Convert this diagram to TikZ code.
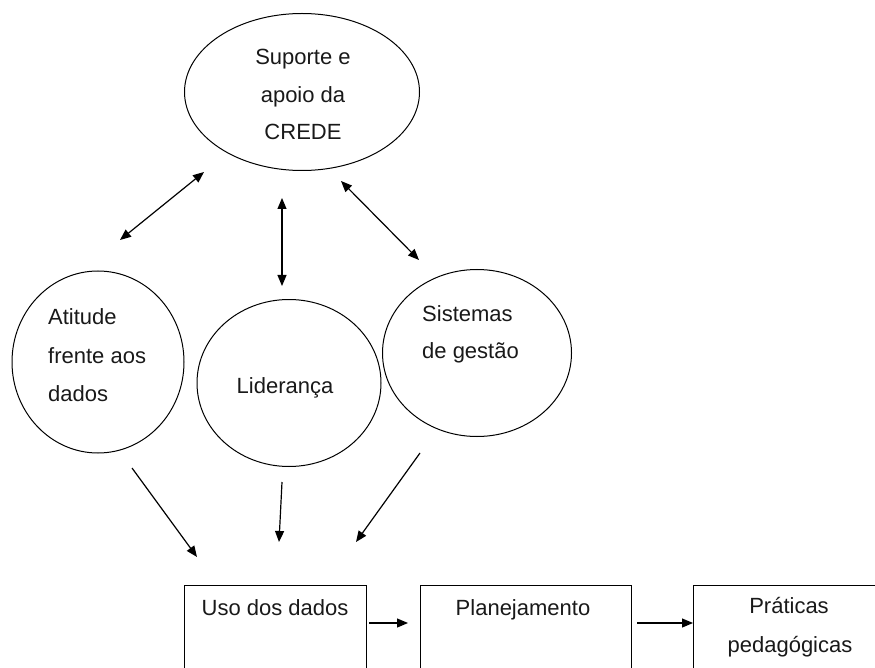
\documentclass[tikz,border=0pt]{standalone}
\usepackage{fontspec}
\setmainfont{Liberation Sans}
\usetikzlibrary{shapes.geometric,arrows.meta}
\begin{document}
\begin{tikzpicture}[x=1pt,y=-1pt,
  bubble/.style={draw, line width=1pt, ellipse, inner sep=0pt},
  boxnode/.style={draw, line width=1pt, rectangle, inner sep=0pt, anchor=north west, minimum height=120pt},
  lbl/.style={font=\fontsize{22}{26}\selectfont, inner sep=0pt, text=black!90},
  arr/.style={line width=1.2pt, -{Triangle[length=11pt,width=9pt]}},
  darr/.style={line width=1.2pt, {Triangle[length=11pt,width=9pt]}-{Triangle[length=11pt,width=9pt]}}
]
\useasboundingbox (0,0) rectangle (875,668);
\clip (0,0) rectangle (875,668);

% ellipses / circles
\node[bubble, minimum width=235pt, minimum height=157pt] (sup) at (302,92) {};
\node[bubble, minimum width=172pt, minimum height=182pt] (ati) at (98,362) {};
\node[bubble, minimum width=184pt, minimum height=167pt] (lid) at (289,383) {};
\node[bubble, minimum width=189pt, minimum height=167pt] (sis) at (477,353) {};

% labels
\node[lbl, anchor=base] (sup1) at (303,65) {Suporte e};
\node[lbl, anchor=base] (sup2) at (303,103) {apoio da};
\node[lbl, anchor=base] (sup3) at (303,140) {CREDE};
\node[lbl, anchor=base west] (ati1) at (48,324) {Atitude};
\node[lbl, anchor=base west] (ati2) at (48,363) {frente aos};
\node[lbl, anchor=base west] (ati3) at (48,401) {dados};
\node[lbl, anchor=base] (lid1) at (285,393) {Liderança};
\node[lbl, anchor=base west] (sis1) at (422,321) {Sistemas};
\node[lbl, anchor=base west] (sis2) at (422,358) {de gestão};

% boxes
\node[boxnode, minimum width=182pt] (b1) at (184,585) {};
\node[boxnode, minimum width=211pt] (b2) at (420,585) {};
\node[boxnode, minimum width=194pt] (b3) at (693,585) {};
\node[lbl, anchor=base] (b1t) at (275,615) {Uso dos dados};
\node[lbl, anchor=base] (b2t) at (523,615) {Planejamento};
\node[lbl, anchor=base] (b3t1) at (789,613) {Práticas};
\node[lbl, anchor=base] (b3t2) at (790,652) {pedagógicas};

% arrow end points
\coordinate (a1s) at (120,240); \coordinate (a1e) at (204,172);
\coordinate (a2s) at (282,286); \coordinate (a2e) at (282,198);
\coordinate (a3s) at (419,260); \coordinate (a3e) at (341,181);
\coordinate (d1s) at (132,468); \coordinate (d1e) at (197,557);
\coordinate (d2s) at (282,482); \coordinate (d2e) at (279,542);
\coordinate (d3s) at (420,453); \coordinate (d3e) at (356,542);
\coordinate (h1s) at (369,623); \coordinate (h1e) at (408,623);
\coordinate (h2s) at (637,623);

\draw[darr] (a1s) -- (a1e);
\draw[darr] (a2s) -- (a2e);
\draw[darr] (a3s) -- (a3e);
\draw[arr] (d1s) -- (d1e);
\draw[arr] (d2s) -- (d2e);
\draw[arr] (d3s) -- (d3e);
\draw[arr] (h1s) -- (h1e);
\draw[arr] (h2s) -- (b3.west |- h2s);
\end{tikzpicture}
\end{document}
